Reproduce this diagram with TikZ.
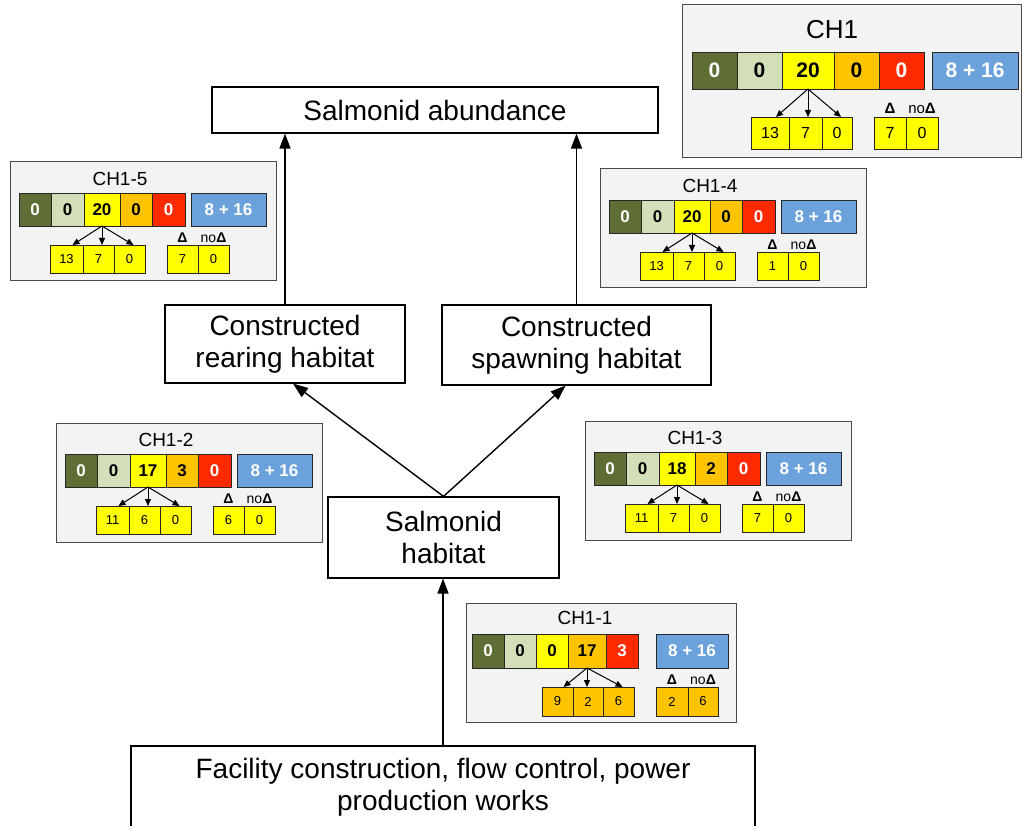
\documentclass[tikz,border=0pt]{standalone}
\usepackage{fontspec}
\setmainfont{Liberation Sans}
\usetikzlibrary{arrows.meta,calc}

\definecolor{cDark}{HTML}{5E6E34}
\definecolor{cLight}{HTML}{D3DFB8}
\definecolor{cYellow}{HTML}{FFFF00}
\definecolor{cOrange}{HTML}{FFC400}
\definecolor{cRed}{HTML}{FF2A00}
\definecolor{cBlue}{HTML}{6CA2DC}
\definecolor{cPanel}{HTML}{F3F3F3}
\definecolor{cPanelLine}{HTML}{4A4A4A}

\tikzset{
  mainbox/.style={draw=black, fill=white, line width=1.2pt, align=center,
    inner sep=0pt, font=\fontsize{28}{32}\selectfont},
  flow/.style={line width=1.4pt, -{Triangle[length=15pt,width=11pt]}},
  panelbox/.style={draw=cPanelLine, fill=cPanel, line width=1pt,
    inner sep=0pt, outer sep=0pt},
  cell/.style={draw=black!85, line width=0.8pt, inner sep=0pt, outer sep=0pt,
    font=\fontsize{\cpNF}{\cpNF}\selectfont\bfseries},
  subcell/.style={draw=black!85, line width=0.8pt, inner sep=0pt, outer sep=0pt,
    font=\fontsize{\cpSF}{\cpSF}\selectfont},
  splitarrow/.style={line width=1pt, -{Triangle[length=7pt,width=6pt]}},
  deltalabel/.style={inner sep=0pt, font=\fontsize{\cpLF}{\cpLF}\selectfont},
}

% geometry of a standard score panel (offsets from its top-left corner)
\newcommand\cpSmallLayout{%
  \def\cpPW{266}\def\cpPH{119}\def\cpTX{110}\def\cpTY{17}\def\cpTF{19}%
  \def\cpBX{9}\def\cpBY{31}\def\cpBH{33}\def\cpNF{17}%
  \def\cpCA{32}\def\cpCB{33}\def\cpCC{36}\def\cpCD{32}\def\cpCE{33}%
  \def\cpUX{181}\def\cpUW{75}%
  \def\cpSX{40}\def\cpSY{83}\def\cpSH{28}\def\cpSA{33}\def\cpSB{31}\def\cpSC{31}\def\cpSF{13}%
  \def\cpDX{157}\def\cpDA{31}\def\cpDB{31}\def\cpLY{76}\def\cpLF{14}%
  \def\cpSRC{3}\def\cpSCOL{cYellow}}

% the five-class bar and the blue total
\def\cpBar#1#2/#3/#4/#5/#6\relax{%
  \node[cell, fill=cDark, text=white, minimum width=\cpCA, minimum height=\cpBH,
    anchor=north west] (#1c1) at (\cpBX,\cpBY) {#2};
  \node[cell, fill=cLight, minimum width=\cpCB, minimum height=\cpBH,
    anchor=north west] (#1c2) at (#1c1.north east) {#3};
  \node[cell, fill=cYellow, minimum width=\cpCC, minimum height=\cpBH,
    anchor=north west] (#1c3) at (#1c2.north east) {#4};
  \node[cell, fill=cOrange, minimum width=\cpCD, minimum height=\cpBH,
    anchor=north west] (#1c4) at (#1c3.north east) {#5};
  \node[cell, fill=cRed, text=white, minimum width=\cpCE, minimum height=\cpBH,
    anchor=north west] (#1c5) at (#1c4.north east) {#6};
  \node[cell, fill=cBlue, text=white, minimum width=\cpUW, minimum height=\cpBH,
    anchor=north west] (#1u) at (\cpUX,\cpBY) {8 + 16};}

% three-way split of one class, with its arrows
\def\cpSplit#1#2/#3/#4\relax{%
  \node[subcell, fill=\cpSCOL, minimum width=\cpSA, minimum height=\cpSH,
    anchor=north west] (#1s1) at (\cpSX,\cpSY) {#2};
  \node[subcell, fill=\cpSCOL, minimum width=\cpSB, minimum height=\cpSH,
    anchor=north west] (#1s2) at (#1s1.north east) {#3};
  \node[subcell, fill=\cpSCOL, minimum width=\cpSC, minimum height=\cpSH,
    anchor=north west] (#1s3) at (#1s2.north east) {#4};
  \draw[splitarrow] (#1c\cpSRC.south) -- ($(#1s1.north)+(6,0)$);
  \draw[splitarrow] (#1c\cpSRC.south) -- (#1c\cpSRC.south |- #1s2.north);
  \draw[splitarrow] (#1c\cpSRC.south) -- ($(#1s3.north)+(4,0)$);}

% change / no change pair
\def\cpDelta#1#2/#3\relax{%
  \node[subcell, fill=\cpSCOL, minimum width=\cpDA, minimum height=\cpSH,
    anchor=north west] (#1d1) at (\cpDX,\cpSY) {#2};
  \node[subcell, fill=\cpSCOL, minimum width=\cpDB, minimum height=\cpSH,
    anchor=north west] (#1d2) at (#1d1.north east) {#3};
  \node[deltalabel] (#1l1) at ({\cpDX+\cpDA/2},\cpLY) {\textbf{Δ}};
  \node[deltalabel] (#1l2) at ({\cpDX+\cpDA+\cpDB/2},\cpLY) {no\textbf{Δ}};}

% #1 name, #2/#3 top-left corner, #4 title, #5 bar values, #6 split, #7 delta pair
\newcommand\cpPanel[7]{%
  \begin{scope}[shift={(#2,#3)}]
    \node[panelbox, minimum width=\cpPW, minimum height=\cpPH, anchor=north west]
      (#1) at (0,0) {};
    \node[inner sep=0pt, font=\fontsize{\cpTF}{\cpTF}\selectfont] (#1t)
      at (\cpTX,\cpTY) {#4};
    \cpBar{#1}#5\relax
    \cpSplit{#1}#6\relax
    \cpDelta{#1}#7\relax
  \end{scope}}

\begin{document}
\begin{tikzpicture}[x=1pt, y=-1pt]
  \useasboundingbox (0,0) rectangle (1023,826);
  \fill[white] (0,0) rectangle (1023,826);

  % causal chain
  \node[mainbox, minimum width=446, minimum height=46] (abund) at (435,110)
    {Salmonid abundance};
  \node[mainbox, minimum width=240, minimum height=78] (rear) at (285,344)
    {Constructed\\rearing habitat};
  \node[mainbox, minimum width=269, minimum height=80] (spawn) at (576.5,345)
    {Constructed\\spawning habitat};
  \node[mainbox, minimum width=231, minimum height=81] (hab) at (443.5,537.5)
    {Salmonid\\habitat};
  \node[mainbox, minimum width=624, minimum height=82] (fac) at (443,787)
    {Facility construction, flow control, power\\production works};

  \coordinate (rearIn) at ($(rear.south)+(8,0)$);
  \coordinate (spawnIn) at ($(spawn.south)+(-11,0)$);

  \draw[flow] (fac.north) -- (fac.north |- hab.south);
  \draw[flow] (hab.north) -- (rearIn);
  \draw[flow] (hab.north) -- (spawnIn);
  \draw[flow] (rear.north) -- (rear.north |- abund.south);
  \draw[flow] (spawn.north) -- (spawn.north |- abund.south);

  % score panels
  \cpSmallLayout
  \cpPanel{pE}{10}{162}{CH1-5}{0/0/20/0/0}{13/7/0}{7/0}
  \cpPanel{pD}{600}{169}{CH1-4}{0/0/20/0/0}{13/7/0}{1/0}
  \cpPanel{pB}{56}{423}{CH1-2}{0/0/17/3/0}{11/6/0}{6/0}
  \cpPanel{pC}{585}{421}{CH1-3}{0/0/18/2/0}{11/7/0}{7/0}

  \begingroup
  \def\cpPW{270}\def\cpTX{119}\def\cpTY{15}%
  \def\cpBX{6}\def\cpBY{31}\def\cpBH{34}%
  \def\cpCA{32}\def\cpCB{32}\def\cpCC{32}\def\cpCD{38}\def\cpCE{32}%
  \def\cpUX{190}\def\cpUW{72}%
  \def\cpSX{76}\def\cpSY{84}\def\cpSH{29}\def\cpSA{31}\def\cpSB{30}\def\cpSC{31}%
  \def\cpDX{190}\def\cpDA{32}\def\cpDB{30}\def\cpLY{77}%
  \def\cpSRC{4}\def\cpSCOL{cOrange}%
  \cpPanel{pA}{466}{603}{CH1-1}{0/0/0/17/3}{9/2/6}{2/6}
  \endgroup

  \begingroup
  \def\cpPW{339}\def\cpPH{153}\def\cpTX{150}\def\cpTY{25}\def\cpTF{26}%
  \def\cpBX{10}\def\cpBY{47}\def\cpBH{37}\def\cpNF{21}%
  \def\cpCA{45}\def\cpCB{45}\def\cpCC{52}\def\cpCD{45}\def\cpCE{45}%
  \def\cpUX{250}\def\cpUW{86}%
  \def\cpSX{69}\def\cpSY{112}\def\cpSH{32}\def\cpSA{38}\def\cpSB{33}\def\cpSC{30}\def\cpSF{16}%
  \def\cpDX{192}\def\cpDA{32}\def\cpDB{32}\def\cpLY{103}\def\cpLF{15}%
  \cpPanel{pT}{682}{5}{CH1}{0/0/20/0/0}{13/7/0}{7/0}
  \endgroup
\end{tikzpicture}
\end{document}
